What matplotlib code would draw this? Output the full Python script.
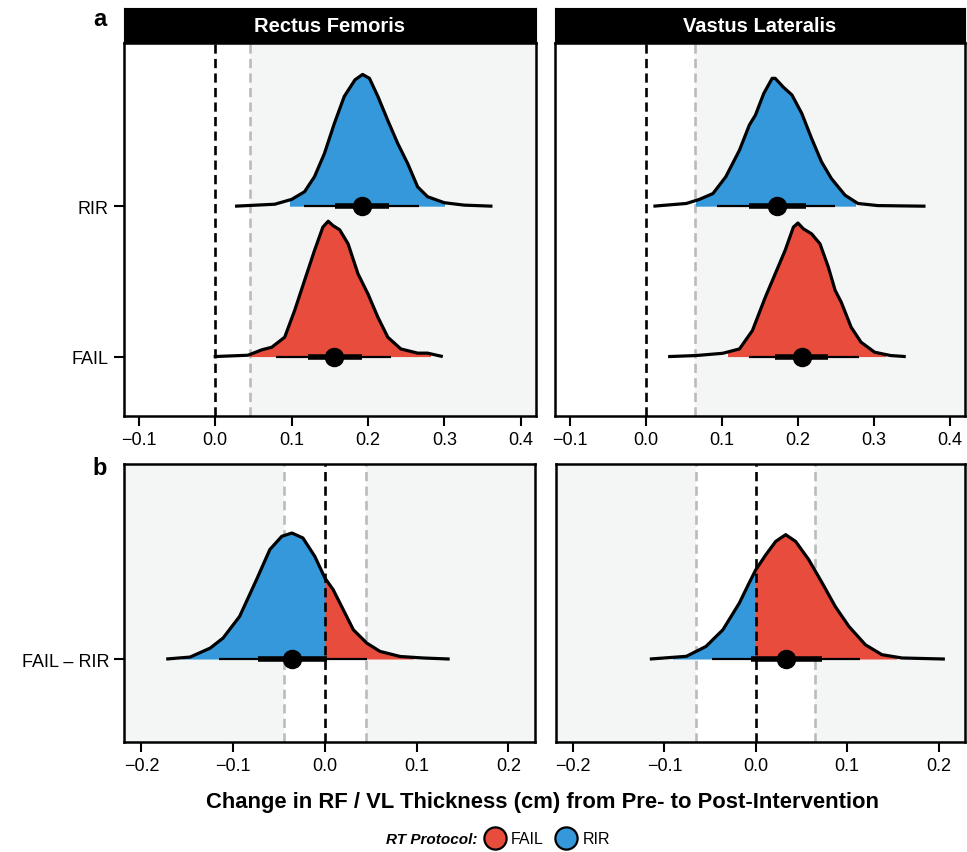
import matplotlib
matplotlib.use('Agg')
import matplotlib.pyplot as plt
from matplotlib.lines import Line2D
from matplotlib.patches import Rectangle

plt.rcParams['font.family'] = ['Liberation Sans', 'DejaVu Sans']

W, H = 967, 853
RED = '#E74C3C'
BLUE = '#3498DB'
PANEL_BG = '#F4F6F5'

muscles = ['Rectus Femoris', 'Vastus Lateralis']
rope = [0.045, 0.065]

# posterior densities (x, relative height)
rf_rir_x = [0.026, 0.078, 0.100, 0.117, 0.130, 0.143, 0.156, 0.169, 0.183, 0.193,
            0.202, 0.213, 0.226, 0.239, 0.252, 0.265, 0.278, 0.300, 0.326, 0.363]
rf_rir_h = [0, 0.013, 0.045, 0.096, 0.196, 0.35, 0.55, 0.73, 0.84, 0.876,
            0.85, 0.73, 0.57, 0.417, 0.284, 0.129, 0.063, 0.023, 0.007, 0]
rf_fail_x = [-0.002, 0.043, 0.061, 0.074, 0.091, 0.104, 0.117, 0.130, 0.141, 0.148,
             0.154, 0.163, 0.174, 0.187, 0.200, 0.213, 0.226, 0.243, 0.265, 0.278, 0.298]
rf_fail_h = [0, 0.009, 0.045, 0.062, 0.129, 0.306, 0.506, 0.705, 0.861, 0.90,
             0.872, 0.843, 0.75, 0.55, 0.417, 0.262, 0.129, 0.051, 0.023, 0.023, 0]
vl_rir_x = [0.0096, 0.053, 0.070, 0.088, 0.105, 0.123, 0.136, 0.144, 0.155, 0.166,
            0.170, 0.181, 0.192, 0.205, 0.218, 0.231, 0.244, 0.262, 0.279, 0.305, 0.368]
vl_rir_h = [0, 0.018, 0.045, 0.084, 0.196, 0.373, 0.54, 0.606, 0.75, 0.85,
            0.85, 0.79, 0.74, 0.617, 0.45, 0.295, 0.184, 0.073, 0.018, 0.004, 0]
vl_fail_x = [0.029, 0.066, 0.101, 0.123, 0.140, 0.157, 0.170, 0.183, 0.194, 0.200,
             0.207, 0.218, 0.229, 0.240, 0.249, 0.257, 0.270, 0.283, 0.301, 0.322, 0.342]
vl_fail_h = [0, 0.007, 0.022, 0.051, 0.173, 0.395, 0.55, 0.705, 0.861, 0.888,
             0.85, 0.816, 0.75, 0.595, 0.44, 0.362, 0.196, 0.096, 0.029, 0.007, 0]
rf_diff_x = [-0.173, -0.147, -0.125, -0.111, -0.093, -0.0745, -0.060, -0.047, -0.036, -0.024,
             -0.011, 0.0, 0.009, 0.020, 0.031, 0.0455, 0.060, 0.082, 0.107, 0.136]
rf_diff_h = [0, 0.013, 0.073, 0.14, 0.284, 0.53, 0.73, 0.818, 0.84, 0.807,
             0.684, 0.54, 0.462, 0.329, 0.195, 0.107, 0.051, 0.017, 0.007, 0]
vl_diff_x = [-0.116, -0.076, -0.0545, -0.036, -0.018, -0.0073, 0.0, 0.011, 0.0218, 0.0327,
             0.0436, 0.058, 0.0727, 0.087, 0.102, 0.120, 0.138, 0.160, 0.207]
vl_diff_h = [0, 0.018, 0.084, 0.195, 0.373, 0.507, 0.595, 0.695, 0.784, 0.829,
             0.784, 0.662, 0.507, 0.35, 0.217, 0.095, 0.029, 0.007, 0]

# coloured part of each density
rf_fill = {'RIR': (0.098, 0.300), 'FAIL': (0.046, 0.281)}
vl_fill = {'RIR': (0.066, 0.275), 'FAIL': (0.108, 0.314)}
diff_fill = [(-0.155, 0.096), (-0.091, 0.153)]

# point estimate, 95% and 66% intervals
rf_point = {'RIR': 0.192, 'FAIL': 0.155}
rf_ci95 = {'RIR': (0.1165, 0.267), 'FAIL': (0.080, 0.230)}
rf_ci66 = {'RIR': (0.157, 0.228), 'FAIL': (0.122, 0.192)}
vl_point = {'RIR': 0.172, 'FAIL': 0.205}
vl_ci95 = {'RIR': (0.094, 0.249), 'FAIL': (0.136, 0.280)}
vl_ci66 = {'RIR': (0.136, 0.210), 'FAIL': (0.170, 0.240)}
diff_point = [-0.036, 0.0327]
diff_ci95 = [(-0.115, 0.046), (-0.048, 0.1145)]
diff_ci66 = [(-0.073, 0.002), (-0.0055, 0.072)]

groups = ['FAIL', 'RIR']
top_xticks = [-0.1, 0.0, 0.1, 0.2, 0.3, 0.4]
bot_xticks = [-0.2, -0.1, 0.0, 0.1, 0.2]


def rect(l, t, r, b):
    return [l / W, 1 - b / H, (r - l) / W, (b - t) / H]


def style(ax):
    for s in ax.spines.values():
        s.set_linewidth(1.8)
    ax.tick_params(width=1.5, length=7, labelsize=13, colors='black')
    ax.set_facecolor(PANEL_BG)


def halfeye(ax, base, xs, hs, fills, point, ci95, ci66):
    ys = [base + h for h in hs]
    for (lo, hi), col in fills:
        poly = ax.fill_between(xs, base, ys, color=col, lw=0, zorder=2)
        clip = Rectangle((lo, base - 0.01), hi - lo, 2, transform=ax.transData)
        poly.set_clip_path(clip)
    ax.plot(xs, ys, color='black', lw=2.3, zorder=3, solid_joinstyle='round',
            solid_capstyle='butt')
    ax.plot(ci95, [base, base], color='black', lw=1.6, zorder=5, solid_capstyle='butt')
    ax.plot(ci66, [base, base], color='black', lw=4.0, zorder=5, solid_capstyle='butt')
    ax.plot([point], [base], 'o', color='black', ms=13, zorder=6)


def vline(ax, x, col, z):
    ax.axvline(x, color=col, lw=1.9, dashes=(3.5, 2), zorder=z)


fig = plt.figure(figsize=(W / 100, H / 100), dpi=100)

top_lr = [(123.5, 536), (555, 965)]
bot_lr = [(124, 535), (555.7, 965)]
dens_top = [
    {'RIR': (rf_rir_x, rf_rir_h), 'FAIL': (rf_fail_x, rf_fail_h)},
    {'RIR': (vl_rir_x, vl_rir_h), 'FAIL': (vl_fail_x, vl_fail_h)},
]
fills_top = [rf_fill, vl_fill]
points_top = [rf_point, vl_point]
ci95_top = [rf_ci95, vl_ci95]
ci66_top = [rf_ci66, vl_ci66]
dens_bot = [(rf_diff_x, rf_diff_h), (vl_diff_x, vl_diff_h)]

for i in range(2):
    # top row: each protocol
    l, r = top_lr[i]
    ax = fig.add_axes(rect(l, 44, r, 417))
    style(ax)
    ax.set_xlim(-0.12, 0.42)
    ax.set_ylim(0.605, 3.085)
    ax.axvspan(-1, rope[i], color='white', lw=0, zorder=0)
    vline(ax, rope[i], '#BBBBBB', 1)
    for k, g in enumerate(groups):
        xs, hs = dens_top[i][g]
        col = RED if g == 'FAIL' else BLUE
        halfeye(ax, k + 1, xs, hs, [(fills_top[i][g], col)],
                points_top[i][g], ci95_top[i][g], ci66_top[i][g])
    vline(ax, 0.0, 'black', 4)
    ax.set_xticks(top_xticks)
    ax.set_xticklabels([f'{v:.1f}'.replace('-', '\u2212') for v in top_xticks])
    ax.set_yticks([1, 2])
    if i == 0:
        ax.set_yticklabels(groups)
    else:
        ax.set_yticklabels([])
        ax.tick_params(axis='y', length=0)

    sax = fig.add_axes(rect(l, 9, r, 44))
    sax.set_facecolor('black')
    sax.set_xticks([])
    sax.set_yticks([])
    sax.text(0.5, 0.5, muscles[i], color='white', fontsize=14.5, fontweight='bold',
             ha='center', va='center', transform=sax.transAxes)

    # bottom row: difference
    l, r = bot_lr[i]
    ax = fig.add_axes(rect(l, 465, r, 743))
    style(ax)
    ax.set_xlim(-0.219, 0.229)
    ax.set_ylim(0.447, 2.3)
    ax.axvspan(-rope[i], rope[i], color='white', lw=0, zorder=0)
    vline(ax, -rope[i], '#BBBBBB', 1)
    vline(ax, rope[i], '#BBBBBB', 1)
    xs, hs = dens_bot[i]
    lo, hi = diff_fill[i]
    halfeye(ax, 1, xs, hs, [((lo, 0.0), BLUE), ((0.0, hi), RED)],
            diff_point[i], diff_ci95[i], diff_ci66[i])
    vline(ax, 0.0, 'black', 4)
    ax.set_xticks(bot_xticks)
    ax.set_xticklabels([f'{v:.1f}'.replace('-', '\u2212') for v in bot_xticks])
    ax.set_yticks([1])
    if i == 0:
        ax.set_yticklabels(['FAIL \u2013 RIR'])
    else:
        ax.set_yticklabels([])
        ax.tick_params(axis='y', length=0)

fig.text(100 / W, 1 - 20 / H, 'a', fontsize=17, fontweight='bold', ha='center', va='center')
fig.text(100 / W, 1 - 469 / H, 'b', fontsize=17, fontweight='bold', ha='center', va='center')
fig.text(543 / W, 1 - 803 / H, 'Change in RF / VL Thickness (cm) from Pre- to Post-Intervention',
         fontsize=15.8, fontweight='bold', ha='center', va='center')

fig.text(477 / W, 1 - 840 / H, 'RT Protocol:', fontsize=11, fontweight='bold',
         fontstyle='italic', ha='right', va='center')
handles = [Line2D([], [], ls='', marker='o', ms=16, markerfacecolor=c,
                  markeredgecolor='black', mew=1.6) for c in (RED, BLUE)]
fig.legend(handles, ['FAIL', 'RIR'], loc='center left', bbox_to_anchor=(484 / W, 1 - 840 / H),
           ncol=2, frameon=False, fontsize=11.5, handlelength=1.4, handletextpad=0.3,
           columnspacing=0.7, borderaxespad=0, borderpad=0)

fig.savefig('out.png', dpi=100)
